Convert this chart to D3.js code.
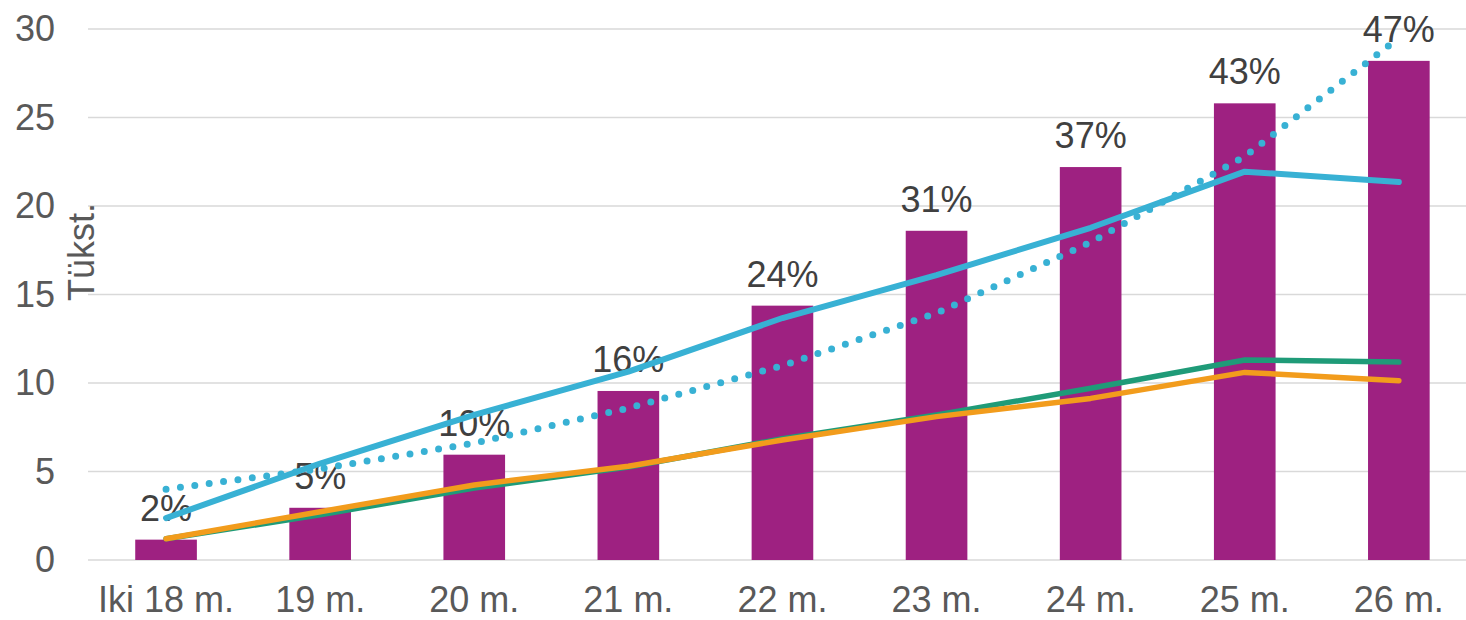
<!DOCTYPE html>
<html>
<head>
<meta charset="utf-8">
<script src="https://cdn.jsdelivr.net/npm/d3@7.9.0/dist/d3.min.js"></script>
<style>
  body { margin: 0; background: #fff; }
  svg { display: block; font-family: "Liberation Sans", Arial, sans-serif; }
</style>
</head>
<body>
<svg id="chart" width="1466" height="620"></svg>
<script>
// categories and series
const months = ["Iki 18 m.", "19 m.", "20 m.", "21 m.", "22 m.", "23 m.", "24 m.", "25 m.", "26 m."];
const barValues = [1.15, 2.95, 5.95, 9.55, 14.37, 18.6, 22.2, 25.8, 28.2];
const shareLabels = ["2%", "5%", "10%", "16%", "24%", "31%", "37%", "43%", "47%"];
const blueSolid = [2.37, 5.45, 8.2, 10.64, 13.67, 16.1, 18.77, 21.94, 21.36];
const blueDotted = [4.0, 5.15, 6.6, 8.58, 10.98, 13.95, 17.95, 22.8, 29.5];
const greenLine = [1.2, 2.55, 4.07, 5.25, 6.85, 8.2, 9.7, 11.3, 11.18];
const orangeLine = [1.2, 2.73, 4.24, 5.3, 6.78, 8.1, 9.13, 10.6, 10.13];
const yTicks = [0, 5, 10, 15, 20, 25, 30];

const svg = d3.select('#chart');
const plotLeft = 89, plotTop = 29, plotBottom = 560;

// outer padding = half the inner one, so band centers sit on a regular step
let x = d3.scaleBand().domain(months)
    .range([plotLeft, plotLeft + 154.1 * months.length])
    .paddingInner(0.6).paddingOuter(0.3);
let y = d3.scaleLinear().domain([0, 30]).range([plotBottom, plotTop]);
const cx = (d) => x(d) + x.bandwidth() / 2;

// gridlines
svg.append('g').selectAll('line').data(yTicks).join('line')
    .attr('x1', 88).attr('x2', 1466)
    .attr('y1', (d) => y(d)).attr('y2', (d) => y(d))
    .attr('stroke', '#d9d9d9').attr('stroke-width', 1.5);

// y axis labels
let yAxis = svg.append('g')
    .attr('transform', `translate(55,0)`)
    .call(d3.axisLeft(y).tickValues(yTicks).tickSize(0).tickPadding(0));
yAxis.select('.domain').remove();
yAxis.selectAll('text').attr('font-size', 36).attr('fill', '#595959')
    .attr('font-family', '"Liberation Sans", Arial, sans-serif');

// x axis labels
let xAxis = svg.append('g')
    .attr('transform', `translate(0,${plotBottom})`)
    .call(d3.axisBottom(x).tickSize(0).tickPadding(0));
xAxis.select('.domain').remove();
xAxis.selectAll('text').attr('font-size', 36).attr('fill', '#595959')
    .attr('dy', null).attr('y', 52)
    .attr('font-family', '"Liberation Sans", Arial, sans-serif');

// axis title
svg.append('text')
    .attr('transform', 'translate(94,252) rotate(-90)')
    .attr('text-anchor', 'middle')
    .attr('font-size', 36).attr('fill', '#595959')
    .text('Tükst.');

// bars
svg.append('g').selectAll('rect').data(months).join('rect')
    .attr('x', (d) => x(d))
    .attr('width', x.bandwidth())
    .attr('y', (d, i) => y(barValues[i]))
    .attr('height', (d, i) => plotBottom - y(barValues[i]))
    .attr('fill', '#9e2181');

// percent labels
svg.append('g').selectAll('text').data(months).join('text')
    .attr('x', (d) => cx(d))
    .attr('y', (d, i) => y(barValues[i]) - 19)
    .attr('text-anchor', 'middle')
    .attr('font-size', 36).attr('fill', '#404040')
    .text((d, i) => shareLabels[i]);

// lines
let line = d3.line().x((d, i) => cx(months[i])).y((d) => y(d));

svg.append('path').attr('d', line(blueDotted))
    .attr('fill', 'none').attr('stroke', '#38b1d4').attr('stroke-width', 7)
    .attr('stroke-linecap', 'round').attr('stroke-dasharray', '0 14.5');
svg.append('path').attr('d', line(blueSolid))
    .attr('fill', 'none').attr('stroke', '#38b1d4').attr('stroke-width', 6)
    .attr('stroke-linecap', 'round').attr('stroke-linejoin', 'round');
svg.append('path').attr('d', line(greenLine))
    .attr('fill', 'none').attr('stroke', '#1f9b78').attr('stroke-width', 5.5)
    .attr('stroke-linecap', 'round').attr('stroke-linejoin', 'round');
svg.append('path').attr('d', line(orangeLine))
    .attr('fill', 'none').attr('stroke', '#f29c1c').attr('stroke-width', 5.5)
    .attr('stroke-linecap', 'round').attr('stroke-linejoin', 'round');
</script>
</body>
</html>
